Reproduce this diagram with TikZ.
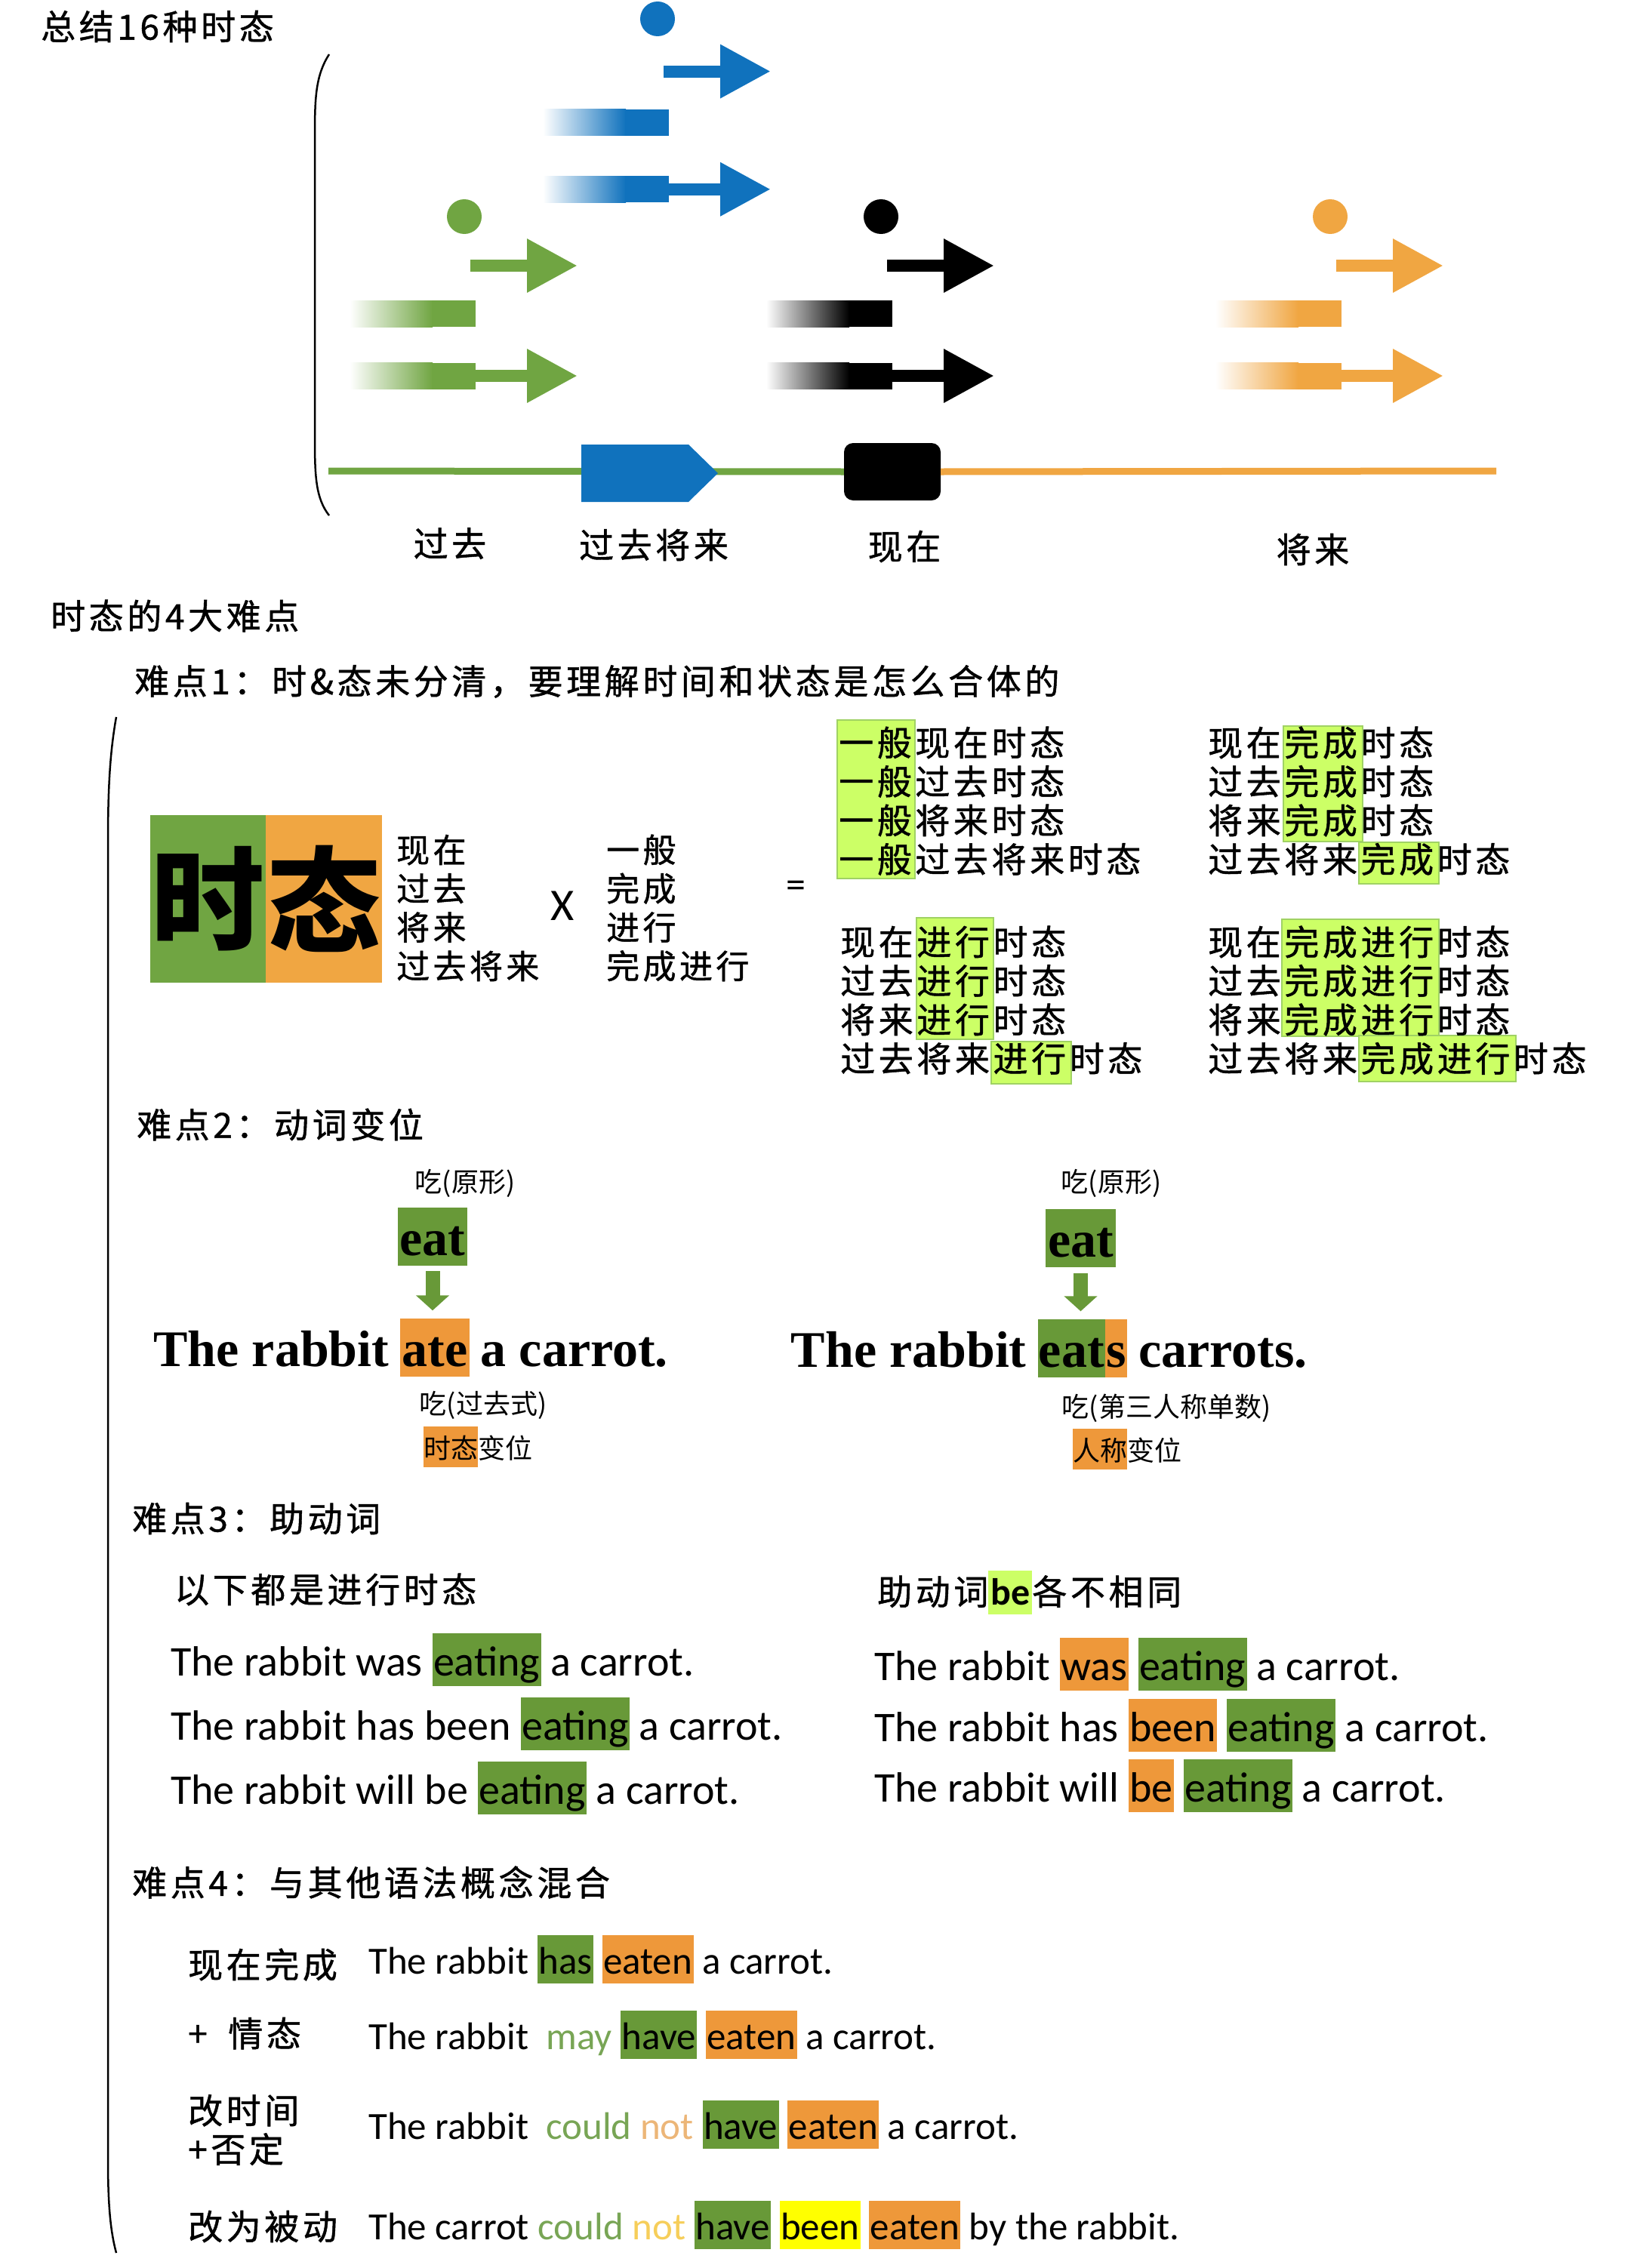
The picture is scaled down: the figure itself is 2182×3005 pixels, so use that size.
\documentclass[tikz,border=0pt]{standalone}
\usepackage{fontspec}
\setmainfont{Noto Sans CJK SC}
\newfontfamily\kai[LetterSpace=10, FakeBold=1]{Noto Sans CJK SC}
\newfontfamily\engsans{Carlito}
\newfontfamily\engserif{Liberation Serif}
\usepackage{xcolor}
\usetikzlibrary{arrows.meta,positioning,calc,backgrounds}

\definecolor{tblue}{RGB}{16,114,189}
\definecolor{tgreen}{RGB}{112,165,66}
\definecolor{torange}{RGB}{240,166,66}
\definecolor{hlgreen}{RGB}{104,153,56}
\definecolor{hlorange}{RGB}{238,152,58}
\definecolor{hllime}{RGB}{204,255,102}
\definecolor{hllimeD}{RGB}{160,210,100}
\definecolor{hlyellow}{RGB}{255,255,0}
\definecolor{txgreen}{RGB}{120,165,85}
\definecolor{txorange}{RGB}{236,182,120}
\definecolor{txyellow}{RGB}{246,206,90}

% highlight boxes for words
\newcommand\hlw[2]{{\setlength\fboxsep{1.5pt}\colorbox{#1}{\rule[-0.23em]{0pt}{1.2em}#2}}}
\newcommand\hlcjk[2]{{\setlength\fboxsep{0pt}\colorbox{#1}{\rule[-0.32em]{0pt}{1.52em}#2}}}

\begin{document}
\begin{tikzpicture}[
  x=1pt, y=-1pt,
  every node/.style={inner sep=0pt},
  kaitxt/.style={font=\kai\fontsize{46}{51.5}\selectfont, anchor=west, align=left},
  heitxt/.style={font=\fontsize{36}{42}\selectfont},
  sentA/.style={font=\engserif\bfseries\fontsize{68}{72}\selectfont},
  verb/.style={sentA, text height=62pt, text depth=12pt, inner xsep=3pt, inner ysep=1.5pt},
  sentB/.style={font=\engsans\fontsize{56}{60}\selectfont, anchor=base west},
  sentC/.style={sentB, font=\engsans\fontsize{51}{55}\selectfont},
  tarr/.style={line width=16pt, -{Triangle[width=67pt,length=67pt]}},
  dnarr/.style={line width=19pt, hlgreen, -{Triangle[width=43pt,length=20pt]}},
  tline/.style={line width=9pt},
  limebox/.style={fill=hllime, draw=hllimeD, line width=1.5pt},
  curve/.style={line width=2.5pt},
]
\useasboundingbox (0,0) rectangle (2182,3005);

% =============================================================== timeline
\node[kaitxt] (title) at (54,35) {总结16种时态};
\draw[curve] (436,72) .. controls (418,100) and (417,130) .. (417,180)
  -- (417,580) .. controls (417,630) and (418,660) .. (436,683);

\foreach \c/\t/\d/\s in {tblue/1021/25/1.07, tgreen/765/287/1,
                         black/1317/287/1, torange/1912/287/1} {
  \fill[\c] (\t-150,\d) circle[radius=23pt];
  \draw[tarr, \c] (\t-142,\d+65*\s) -- (\t,\d+65*\s);
  \shade[left color=white, right color=\c]
    (\t-302,\d+128.5*\s-17.5) rectangle (\t-192,\d+128.5*\s+17.5);
  \fill[\c] (\t-193,\d+128.5*\s-17.5) rectangle (\t-135,\d+128.5*\s+17.5);
  \shade[left color=white, right color=\c]
    (\t-302,\d+211*\s-17.5) rectangle (\t-192,\d+211*\s+17.5);
  \fill[\c] (\t-193,\d+211*\s-17.5) rectangle (\t-135,\d+211*\s+17.5);
  \draw[tarr, \c] (\t-136,\d+211*\s) -- (\t,\d+211*\s);
}

\coordinate (tstart) at (435,624);
\coordinate (tend) at (1982,624);
\node[fill=black, rounded corners=12pt, minimum width=128pt,
      minimum height=76pt] (now) at (1182,625) {};
\draw[tline, tgreen] (tstart) -- (now.west);
\draw[tline, torange] (now.east) -- (tend);
\fill[tblue] (770,589) -- (912,589) -- (951,627) -- (912,665) -- (770,665) -- cycle;

\node[kaitxt, anchor=center] (lpast) at (596,720) {过去};
\node[kaitxt, anchor=center] (lpfut) at (866,722) {过去将来};
\node[kaitxt, anchor=center] (lnow) at (1198,724) {现在};
\node[kaitxt, anchor=center] (lfut) at (1739,728) {将来};

% =============================================================== 4 points
\node[kaitxt] (head) at (67,816) {时态的4大难点};
\draw[curve] (154,950) .. controls (145,1000) and (143,1050) .. (143,1120)
  -- (143,2860) .. controls (143,2920) and (146,2955) .. (154,2985);

% --- point 1 ---
\node[kaitxt] (p1head) at (178,903) {难点1：时\&态未分清，要理解时间和状态是怎么合体的};
\node[fill=tgreen, minimum width=153pt, minimum height=222pt,
      font=\bfseries\fontsize{150}{150}\selectfont] (shi) at (275.5,1191) {时};
\node[fill=torange, minimum width=154pt, minimum height=222pt,
      font=\bfseries\fontsize{150}{150}\selectfont, right=0pt of shi] (tai) {态};
\node[kaitxt, font=\kai\fontsize{44}{51.3}\selectfont] (when) at (525,1203)
  {现在\\过去\\将来\\过去将来};
\node[font=\engsans\fontsize{60}{60}\selectfont] (times) at (745,1200) {X};
\node[kaitxt, font=\kai\fontsize{44}{51.3}\selectfont] (aspect) at (803,1203)
  {一般\\完成\\进行\\完成进行};
\node[font=\engsans\fontsize{52}{52}\selectfont] (equal) at (1054,1178) {=};

\foreach \xa/\ya/\xb/\yb in {1109/954/1212/1164, 1700/962/1805/1115,
    1800/1116/1906/1171, 1214/1216/1316/1377, 1313/1380/1419/1436,
    1698/1218/1906/1373, 1800/1372/2008/1433}
  \draw[limebox] (\xa,\ya) rectangle (\xb,\yb);

\foreach \w [count=\i] in {现在,过去,将来,过去将来} {
  \node[kaitxt] (ga\i) at (1111,932.5+51.5*\i) {一般\w{}时态};
  \node[kaitxt] (wc\i) at (1600,932.5+51.5*\i) {\w{}完成时态};
  \node[kaitxt] (jx\i) at (1113,1196.5+51.5*\i) {\w{}进行时态};
  \node[kaitxt] (wj\i) at (1600,1196.5+51.5*\i) {\w{}完成进行时态};
}

% --- point 2 ---
\node[kaitxt] (p2head) at (181,1490) {难点2：动词变位};

\node[heitxt] (base1) at (616,1568) {吃(原形)};
\node[verb, fill=hlgreen] (eat1) at (573,1638.5) {eat};
\node[verb, fill=hlorange, anchor=base] (ate) at (576,1810) {ate};
\node[sentA, anchor=base east] (s1l) at ([xshift=-14pt]ate.base west) {The rabbit};
\node[sentA, anchor=base west] (s1r) at ([xshift=14pt]ate.base east) {a carrot.};
\draw[dnarr, shorten <=7pt, shorten >=10pt] (eat1.south) -- (eat1.south |- ate.north);
\node[heitxt] (past1) at (640,1862) {吃(过去式)};
\node[heitxt, anchor=west] (chg1) at (561,1917) {\hlcjk{hlorange}{时态}变位};

\node[heitxt] (base2) at (1472,1568) {吃(原形)};
\node[verb, fill=hlgreen] (eat2) at (1431.5,1640.5) {eat};
\node[verb, fill=hlgreen, inner xsep=1pt, anchor=base east] (eats) at (1464,1811) {eat};
\node[verb, fill=hlorange, inner xsep=1pt, anchor=base west] (ess) at (eats.base east) {s};
\node[sentA, anchor=base east] (s2l) at ([xshift=-15pt]eats.base west) {The rabbit};
\node[sentA, anchor=base west] (s2r) at ([xshift=15pt]ess.base east) {carrots.};
\draw[dnarr, shorten <=8pt, shorten >=10pt] (eat2.south) -- (eat2.south |- eats.north);
\node[heitxt] (third) at (1545,1866) {吃(第三人称单数)};
\node[heitxt, anchor=west] (chg2) at (1421,1920) {\hlcjk{hlorange}{人称}变位};

% --- point 3 ---
\node[kaitxt] (p3head) at (175,2012) {难点3：助动词};
\node[kaitxt] (allprog) at (231,2106) {以下都是进行时态};
\node[kaitxt] (bediff) at (1162,2110)
  {助动词{\setlength\fboxsep{3pt}\colorbox{hllime}{\engsans\bfseries\fontsize{50}{50}\selectfont\rule[-0.2em]{0pt}{1.05em}be}}各不相同};

\node[sentB] (pa) at (226,2220) {The rabbit was \hlw{hlgreen}{eating} a carrot.};
\node[sentB] (pb) at (226,2305) {The rabbit has been \hlw{hlgreen}{eating} a carrot.};
\node[sentB] (pc) at (226,2390) {The rabbit will be \hlw{hlgreen}{eating} a carrot.};
\node[sentB] (qa) at (1158,2226) {The rabbit \hlw{hlorange}{was} \hlw{hlgreen}{eating} a carrot.};
\node[sentB] (qb) at (1158,2307) {The rabbit has \hlw{hlorange}{been} \hlw{hlgreen}{eating} a carrot.};
\node[sentB] (qc) at (1158,2387) {The rabbit will \hlw{hlorange}{be} \hlw{hlgreen}{eating} a carrot.};

% --- point 4 ---
\node[kaitxt] (p4head) at (175,2494) {难点4：与其他语法概念混合};
\node[kaitxt] (k1) at (249,2603) {现在完成};
\node[kaitxt] (k2) at (249,2694) {+\hspace{0.6em}情态};
\node[kaitxt] (k3) at (249,2822) {改时间\\+否定};
\node[kaitxt] (k4) at (249,2950) {改为被动};

\node[sentC] (ma) at (488,2615)
  {The rabbit \hlw{hlgreen}{has} \hlw{hlorange}{eaten} a carrot.};
\node[sentC] (mb) at (488,2715)
  {The rabbit\ \ \textcolor{txgreen}{may} \hlw{hlgreen}{have} \hlw{hlorange}{eaten} a carrot.};
\node[sentC] (mc) at (488,2834)
  {The rabbit\ \ \textcolor{txgreen}{could} \textcolor{txorange}{not} \hlw{hlgreen}{have} \hlw{hlorange}{eaten} a carrot.};
\node[sentC] (md) at (488,2967)
  {The carrot \textcolor{txgreen}{could} \textcolor{txyellow}{not} \hlw{hlgreen}{have} \hlw{hlyellow}{been} \hlw{hlorange}{eaten} by the rabbit.};

\end{tikzpicture}
\end{document}
